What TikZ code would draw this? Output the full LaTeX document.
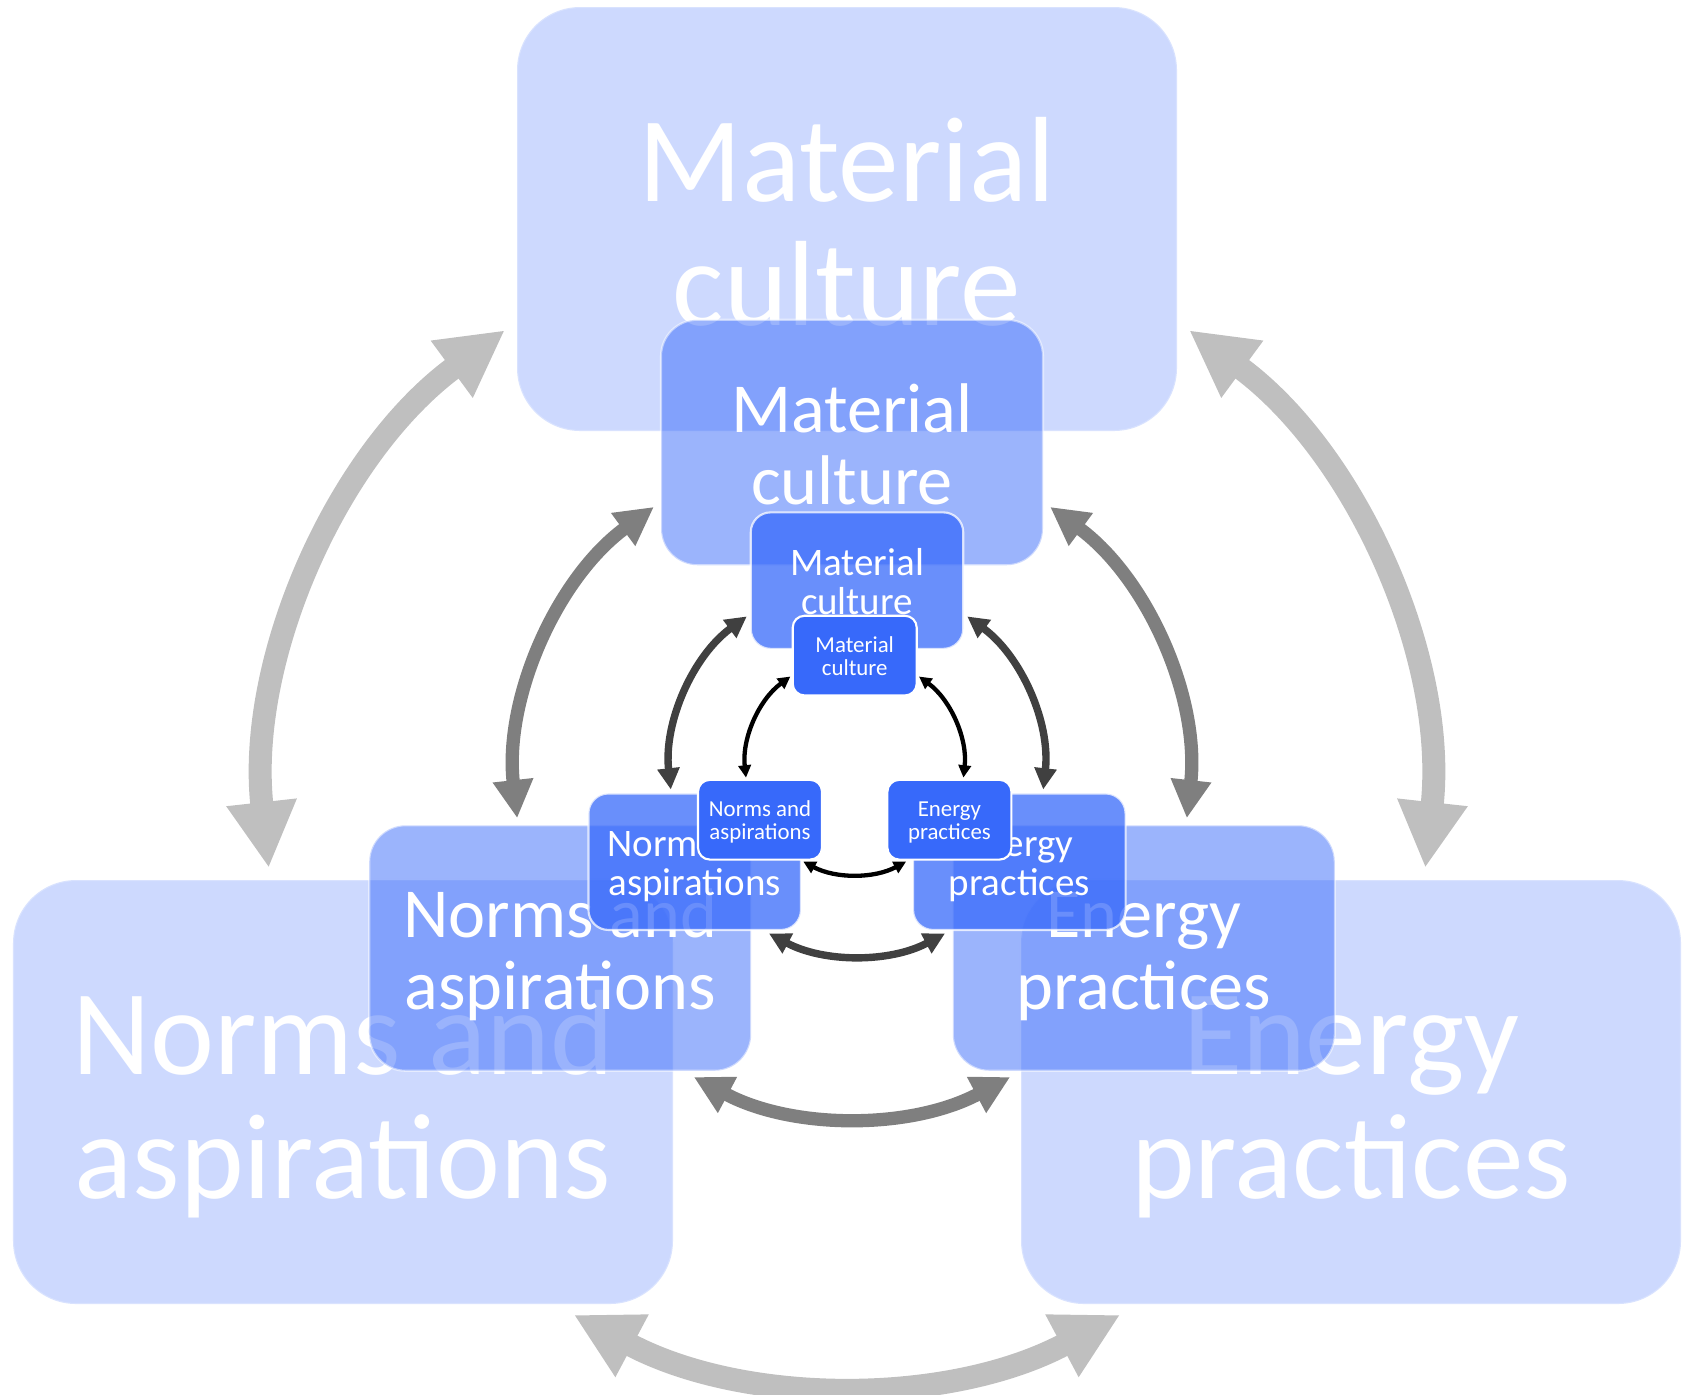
\documentclass[tikz,border=0pt]{standalone}
\usepackage{fontspec}
\setmainfont{Carlito}
\usetikzlibrary{arrows.meta}
\definecolor{boxblue}{HTML}{3769FA}
\definecolor{arrgrayA}{HTML}{BFBFBF}
\definecolor{arrgrayB}{HTML}{7F7F7F}
\definecolor{arrgrayC}{HTML}{404040}
\newcommand{\boxlines}[2]{\rule{0pt}{0.98em}#1\\#2\rule[-0.25em]{0pt}{0.25em}}

\begin{document}
\begin{tikzpicture}[x=1mm, y=1mm]
    \tikzstyle{every node}+=[inner sep=0pt]
    \tikzstyle{box}=[rectangle, draw=white, line width=0.6pt, fill=boxblue, text=white, align=center]
    \tikzstyle{boxA}=[box, fill opacity=0.25, draw opacity=0.25, text opacity=1, rounded corners=0.63cm,
        minimum width=6.6cm, minimum height=4.24cm, font=\fontsize{34.5pt}{35.2pt}\selectfont]
    \tikzstyle{boxB}=[box, fill opacity=0.5, draw opacity=0.5, text opacity=1, rounded corners=0.365cm,
        minimum width=3.82cm, minimum height=2.455cm, font=\fontsize{20pt}{20.4pt}\selectfont]
    \tikzstyle{boxC}=[box, fill opacity=0.75, draw opacity=0.75, text opacity=1, rounded corners=0.2cm,
        minimum width=2.125cm, minimum height=1.365cm, font=\fontsize{11.1pt}{11.3pt}\selectfont]
    \tikzstyle{boxD}=[box, rounded corners=0.118cm,
        minimum width=1.24cm, minimum height=0.797cm, font=\fontsize{6.5pt}{6.6pt}\selectfont]
    \tikzstyle{arrA}=[draw=arrgrayA, line width=0.23cm, >={Triangle[width=0.66cm,length=0.66cm]}, <->]
    \tikzstyle{arrB}=[draw=arrgrayB, line width=0.133cm, >={Triangle[width=0.382cm,length=0.382cm]}, <->]
    \tikzstyle{arrC}=[draw=arrgrayC, line width=0.074cm, >={Triangle[width=0.213cm,length=0.213cm]}, <->]
    \tikzstyle{arrD}=[draw=black, line width=0.043cm, >={Triangle[width=0.124cm,length=0.124cm]}, <->]
    \useasboundingbox (0,0) rectangle (168.7,-139.4);
    % outer triad
    \node[boxA] (mat1) at (84.7,-21.9) {\boxlines{Material}{culture}};
    \node[boxA] (nor1) at (34.3,-109.2) {\boxlines{Norms and}{aspirations}};
    \node[boxA] (ene1) at (135.1,-109.2) {\boxlines{Energy}{practices}};
    \coordinate (mn1) at (50.49,-33.02);
    \coordinate (nm1) at (26.88,-86.79);
    \coordinate (ne1) at (57.38,-131.48);
    \coordinate (en1) at (112.02,-131.48);
    \coordinate (em1) at (142.52,-86.79);
    \coordinate (me1) at (118.91,-33.02);
    \draw[arrA] (mn1) to[bend right=30, looseness=0.91] (nm1);
    \draw[arrA] (ne1) to[bend right=28, looseness=0.91] (en1);
    \draw[arrA] (em1) to[bend right=30, looseness=0.91] (me1);
    % second triad
    \node[boxB] (mat2) at (85.2,-44.25) {\boxlines{Material}{culture}};
    \node[boxB] (nor2) at (56.02,-94.8) {\boxlines{Norms and}{aspirations}};
    \node[boxB] (ene2) at (114.38,-94.8) {\boxlines{Energy}{practices}};
    \coordinate (mn2) at (65.39,-50.69);
    \coordinate (nm2) at (51.72,-81.82);
    \coordinate (ne2) at (69.38,-107.7);
    \coordinate (en2) at (101.02,-107.7);
    \coordinate (em2) at (118.68,-81.82);
    \coordinate (me2) at (105.01,-50.69);
    \draw[arrB] (mn2) to[bend right=30, looseness=0.91] (nm2);
    \draw[arrB] (ne2) to[bend right=28, looseness=0.91] (en2);
    \draw[arrB] (em2) to[bend right=30, looseness=0.91] (me2);
    % third triad
    \node[boxC] (mat3) at (85.7,-58.06) {\boxlines{Material}{culture}};
    \node[boxC] (nor3) at (69.47,-86.17) {\boxlines{Norms and}{aspirations}};
    \node[boxC] (ene3) at (101.93,-86.17) {\boxlines{Energy}{practices}};
    \coordinate (mn3) at (74.68,-61.64);
    \coordinate (nm3) at (67.08,-78.95);
    \coordinate (ne3) at (76.9,-93.35);
    \coordinate (en3) at (94.5,-93.35);
    \coordinate (em3) at (104.32,-78.95);
    \coordinate (me3) at (96.72,-61.64);
    \draw[arrC] (mn3) to[bend right=30, looseness=0.91] (nm3);
    \draw[arrC] (ne3) to[bend right=28, looseness=0.91] (en3);
    \draw[arrC] (em3) to[bend right=30, looseness=0.91] (me3);
    % inner triad
    \node[boxD] (mat4) at (85.47,-65.56) {\boxlines{Material}{culture}};
    \node[boxD] (nor4) at (76.0,-81.97) {\boxlines{Norms and}{aspirations}};
    \node[boxD] (ene4) at (94.94,-81.97) {\boxlines{Energy}{practices}};
    \coordinate (mn4) at (79.04,-67.65);
    \coordinate (nm4) at (74.6,-77.76);
    \coordinate (ne4) at (80.33,-86.16);
    \coordinate (en4) at (90.61,-86.16);
    \coordinate (em4) at (96.34,-77.76);
    \coordinate (me4) at (91.9,-67.65);
    \draw[arrD] (mn4) to[bend right=30, looseness=0.91] (nm4);
    \draw[arrD] (ne4) to[bend right=28, looseness=0.91] (en4);
    \draw[arrD] (em4) to[bend right=30, looseness=0.91] (me4);
\end{tikzpicture}
\end{document}
